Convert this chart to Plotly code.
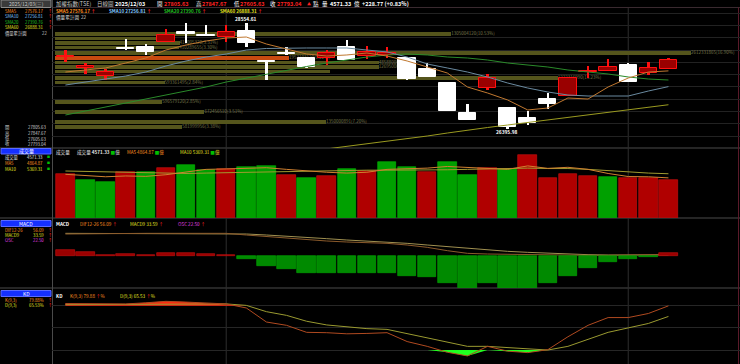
import plotly.graph_objects as go

FONT = "Noto Sans CJK TC, Noto Sans, sans-serif"
W, H = 740, 364

# ---------------- data ----------------
bars = list(range(31))
opens  = [27850, 27640, 27478, 28050, 28055, 28169, 28360, 28300, 28270, 28386, 27775, 27930, 27831, 27831, 28055, 27884,
          27899, 27831, 27608, 27324, 26714, 27222, 26828, 26613, 26999, 27066, 27550, 27573, 27695, 27539, 27605.63]
highs  = [28000, 27742, 27614, 28217, 28116, 28420, 28542, 28508, 28508, 28554.61, 27780, 28067, 27840, 28000, 28203, 28087,
          28055, 27850, 27730, 27330, 26903, 27506, 26840, 26767, 27121, 27440, 27675, 27811, 27730, 27762, 27847.67]
lows   = [27756, 27513, 27391, 28010, 27899, 28169, 28136, 28275, 28169, 28055, 27391, 27905, 27634, 27696, 27790, 27817,
          27832, 27390, 27450, 26755, 26570, 27188, 26395.98, 26477, 26802, 27060, 27437, 27570, 27350, 27492, 27605.63]
closes = [27870, 27660, 27559, 28020, 27966, 28305, 28330, 28280, 28372, 28136, 27750, 27910, 27661, 27933, 27797, 27966,
          27945, 27405, 27458, 26761, 26578, 27437, 26430, 26511, 26903, 27425, 27570, 27649, 27356, 27628, 27793.04]

sma5  = [27553, 27594, 27635, 27736, 27838, 28000, 28102, 28183, 28244, 28264, 28122, 28020, 27919, 27878, 27899, 27939,
         27878, 27777, 27655, 27533, 27249, 27127, 26985, 26782, 26822, 27025, 27005, 27249, 27431, 27553, 27576.17]
sma10 = [27289, 27350, 27411, 27472, 27553, 27675, 27777, 27858, 27919, 28000, 28031, 28041, 28041, 28041, 28041, 28000,
         27960, 27858, 27716, 27635, 27553, 27452, 27330, 27228, 27147, 27086, 27066, 27066, 27066, 27167, 27256.81]
sma20 = [26680, 26761, 26842, 26924, 27005, 27086, 27167, 27249, 27350, 27431, 27513, 27594, 27665, 27736, 27797, 27858,
         27899, 27919, 27899, 27858, 27838, 27797, 27736, 27695, 27655, 27594, 27553, 27513, 27452, 27411, 27390.76]
sma60_x = list(range(12, 31))
sma60 = [25939, 25989, 26040, 26091, 26142, 26193, 26253, 26314, 26375, 26426, 26477, 26528, 26578, 26629, 26680,
         26741, 26782, 26832, 26888.31]

volume = [5337, 4650, 4330, 5620, 5540, 6030, 6430, 5820, 5940, 6150, 6310, 5180, 4850, 5090, 5900, 5740,
          6830, 6220, 5580, 6790, 5220, 6030, 5940, 7640, 4890, 5300, 5090, 4970, 4890, 4850, 4571.33]
vol_up = [1, 0, 0, 1, 0, 1, 0, 0, 1, 0, 0, 1, 0, 1, 0, 1, 0, 0, 1, 0, 0, 1, 0, 1, 1, 1, 1, 0, 1, 1, 1]
vol_ma5 = [5300, 5150, 5000, 5100, 5050, 5250, 5600, 5900, 5950, 6050, 6100, 5900, 5700, 5550, 5450, 5550,
           5900, 6000, 6050, 6250, 6150, 6000, 5900, 6320, 6020, 6150, 5900, 5400, 5030, 5000, 4864.87]
vol_ma10 = [5700, 5650, 5550, 5500, 5450, 5400, 5400, 5450, 5500, 5550, 5600, 5650, 5700, 5750, 5750, 5800,
            5800, 5800, 5800, 5850, 5900, 5950, 5950, 6050, 6000, 6000, 5900, 5750, 5550, 5450, 5369.31]

dif   = [726, 737, 737, 737, 748, 748, 748, 748, 748, 693, 638, 583, 528, 495, 462, 440,
         418, 363, 286, 176, 88, 66, 55, 33, 33, 33, 22, 22, 33, 44, 56.09]
macd9 = [748, 748, 748, 748, 748, 748, 748, 748, 748, 726, 693, 660, 616, 572, 528, 495,
         462, 418, 363, 308, 253, 198, 154, 121, 88, 66, 44, 33, 33, 28, 33.59]
osc   = [41, 25, 5, 11, 9, 20, 20, 16, 5, -18, -68, -86, -113, -118, -118, -113,
         -113, -134, -145, -184, -220, -186, -215, -215, -186, -134, -84, -41, -23, -9, 22.5]

k_val = [83, 82.5, 82, 82.5, 84, 86, 85, 83.5, 82.5, 77, 58, 53.5, 44, 43.5, 42, 42.5,
         43.5, 31.5, 25, 17, 12, 25, 18.5, 16.5, 20.5, 38, 53.5, 64, 64, 69.5, 79.88]
d_val = [81.5, 81.5, 81.5, 81.5, 81.5, 82, 82.5, 82.5, 82.5, 80.5, 72, 67, 59, 54, 51, 49,
         48, 42, 36, 30, 25, 25, 23, 21, 20, 25, 34, 44, 50, 56, 65.53]

# price-volume profile (bin centre price, percent, label)
prof_price = [26433, 26535, 26738, 26941, 27340, 27434, 27563, 27655, 27746, 27841, 27944, 28051, 28142, 28234, 28328]
prof_pct   = [3.38, 7.20, 3.97, 2.85, 2.91, 13.36, 7.30, 8.60, 8.60, 6.22, 16.90, 3.30, 3.31, 3.17, 10.53]
prof_label = ["581999956(3.38%)", "1350000891(7.20%)", "672456510(3.51%)", "596579120(2.85%)",
              "593361495(2.84%)", "1222316990(13.23%)", "", "1269500000(8.6%)", "485880000(8.6%)",
              "1952103120(6.22%)", "2612331865(16.90%)", "410289655(3.30%)", "411005320(3.31%)", "",
              "1305004120(10.53%)"]
prof_hot = 9
month_bars = [8, 28]

# ---------------- helpers ----------------
X0 = 52 / W
XR = [-0.667, 33.56]
PX_PER_PCT = 37.8
def py(y):
    return 1 - y / H

fig = go.Figure()

# profile bars on base x axis (percent)
pcols = ["#c84a10" if i == prof_hot else "#55551c" for i in range(len(prof_price))]
fig.add_trace(go.Bar(y=prof_price, x=prof_pct, orientation="h", width=80, marker=dict(color=pcols, line=dict(width=0)),
                     xaxis="x", yaxis="y"))
fig.add_trace(go.Scatter(y=prof_price, x=prof_pct, mode="text", text=prof_label, textposition="middle right",
                         textfont=dict(size=4.5, color="#77774a", family=FONT), xaxis="x", yaxis="y", cliponaxis=False))

# SMA lines (overlay axis x6 = bar index)
for ys, xs, c in [(sma60, sma60_x, "#9a9a20"), (sma20, bars, "#2a8a2a"), (sma10, bars, "#6a8aa0"), (sma5, bars, "#c07830")]:
    fig.add_trace(go.Scatter(x=xs, y=ys, mode="lines", line=dict(color=c, width=1), xaxis="x6", yaxis="y"))

# candles: wicks then bodies
red_i = [i for i in bars if closes[i] >= opens[i]]
wht_i = [i for i in bars if closes[i] < opens[i]]
for idx, wc in [(red_i, "#ff1010"), (wht_i, "#ffffff")]:
    fig.add_trace(go.Bar(x=idx, base=[lows[i] for i in idx], y=[highs[i] - lows[i] for i in idx],
                         width=0.12, marker=dict(color=wc, line=dict(width=0)), xaxis="x6", yaxis="y"))
for idx, fc, lc in [(red_i, "#9a0000", "#ff1010"), (wht_i, "#ffffff", "#ffffff")]:
    fig.add_trace(go.Bar(x=idx, base=[min(opens[i], closes[i]) for i in idx],
                         y=[max(abs(closes[i] - opens[i]), 30) for i in idx],
                         width=0.86, marker=dict(color=fc, line=dict(color=lc, width=1)), xaxis="x6", yaxis="y"))

# volume
vcols = ["#b00000" if u else "#00a000" for u in vol_up]
vline = ["#d01010" if u else "#00c000" for u in vol_up]
fig.add_trace(go.Bar(x=bars, y=volume, width=0.92, marker=dict(color=vcols, line=dict(color=vline, width=0.6)),
                     xaxis="x2", yaxis="y2"))
fig.add_trace(go.Scatter(x=bars, y=vol_ma10, mode="lines", line=dict(color="#a09a30", width=1), xaxis="x2", yaxis="y2"))
fig.add_trace(go.Scatter(x=bars, y=vol_ma5, mode="lines", line=dict(color="#d08030", width=1), xaxis="x2", yaxis="y2"))

# MACD
ocols = ["#9a0000" if v >= 0 else "#008a00" for v in osc]
olines = ["#d01010" if v >= 0 else "#00b000" for v in osc]
fig.add_trace(go.Bar(x=bars, y=osc, width=0.92, marker=dict(color=ocols, line=dict(color=olines, width=0.6)),
                     xaxis="x3", yaxis="y4"))
fig.add_trace(go.Scatter(x=bars, y=macd9, mode="lines", line=dict(color="#a09050", width=1), xaxis="x3", yaxis="y3"))
fig.add_trace(go.Scatter(x=bars, y=dif, mode="lines", line=dict(color="#8b5a2b", width=1), xaxis="x3", yaxis="y3"))

# KD with fills
fig.add_trace(go.Scatter(x=bars, y=[80] * 31, mode="lines", line=dict(width=0), xaxis="x4", yaxis="y5"))
fig.add_trace(go.Scatter(x=bars, y=[max(k, 80) for k in k_val], mode="lines", line=dict(width=0), fill="tonexty",
                         fillcolor="#ff2a10", xaxis="x4", yaxis="y5"))
fig.add_trace(go.Scatter(x=bars, y=[20] * 31, mode="lines", line=dict(width=0), xaxis="x4", yaxis="y5"))
fig.add_trace(go.Scatter(x=bars, y=[min(k, 20) for k in k_val], mode="lines", line=dict(width=0), fill="tonexty",
                         fillcolor="#20ff20", xaxis="x4", yaxis="y5"))
fig.add_trace(go.Scatter(x=bars, y=d_val, mode="lines", line=dict(color="#9a9a30", width=1), xaxis="x4", yaxis="y5"))
fig.add_trace(go.Scatter(x=bars, y=k_val, mode="lines", line=dict(color="#b04a20", width=1), xaxis="x4", yaxis="y5"))

ax_common = dict(showgrid=False, zeroline=False, showticklabels=False, ticks="", showline=False, fixedrange=True)
xdom = [X0, 1]
layout = dict(
    width=W, height=H, margin=dict(l=0, r=0, t=0, b=0), paper_bgcolor="#000000", plot_bgcolor="rgba(0,0,0,0)",
    showlegend=False, barmode="overlay", bargap=0,
    xaxis=dict(domain=xdom, range=[-3 / PX_PER_PCT, 688 / PX_PER_PCT], anchor="y", **ax_common),
    xaxis6=dict(domain=xdom, range=XR, anchor="y", overlaying="x", **ax_common),
    xaxis2=dict(domain=xdom, range=XR, anchor="y2", **ax_common),
    xaxis3=dict(domain=xdom, range=XR, anchor="y3", **ax_common),
    xaxis4=dict(domain=xdom, range=XR, anchor="y5", **ax_common),
    yaxis=dict(domain=[py(148), py(8)], range=[26009.8, 28853.2], **{**ax_common, "showgrid": True},
               gridcolor="#222222", gridwidth=1, dtick=250, tick0=26000),
    yaxis2=dict(domain=[py(218), py(148)], range=[0, 8491], **ax_common),
    yaxis3=dict(domain=[py(288), py(218)], range=[-1056, 1254], **ax_common),
    yaxis4=dict(domain=[py(288), py(218)], range=[-217.6, 258.4], overlaying="y3", anchor="x3", **ax_common),
    yaxis5=dict(domain=[0, py(288)], range=[1.08, 104.07], **{**ax_common, "showgrid": True},
                gridcolor="#262626", tickvals=[20, 50, 80]),
)
fig.update_layout(**layout)

shapes = []
ann = []
def hline(y, x0=0, x1=W, color="#4a4a4a", width=1):
    shapes.append(dict(type="line", xref="paper", yref="paper", x0=x0 / W, x1=x1 / W, y0=py(y), y1=py(y),
                       line=dict(color=color, width=width), layer="below"))
def vline(x, y0, y1, color="#4a4a4a", width=1):
    shapes.append(dict(type="line", xref="paper", yref="paper", x0=x / W, x1=x / W, y0=py(y0), y1=py(y1),
                       line=dict(color=color, width=width), layer="below"))
def rect(x0, y0, x1, y1, fill, line="#808080"):
    shapes.append(dict(type="rect", xref="paper", yref="paper", x0=x0 / W, x1=x1 / W, y0=py(y1), y1=py(y0),
                       fillcolor=fill, line=dict(color=line, width=1), layer="below"))
def t(x, y, s, color="#e0e0e0", size=5, anchor="left", bold=False):
    if bold:
        s = "<b>" + s + "</b>"
    ann.append(dict(x=x / W, y=py(y), xref="paper", yref="paper", text=s, showarrow=False, xanchor=anchor,
                    yanchor="middle", font=dict(size=size, color=color, family=FONT)))

# panel frame
hline(7.5, 52, W, "#3a2a30")
hline(148, 0, W)
hline(218, 0, W)
hline(288, 0, W)
vline(52.5, 0, H)
vline(738.5, 7.5, H, "#5a1a2a")
for mb in month_bars:
    xm = 52 + (mb - XR[0]) / (XR[1] - XR[0]) * (W - 52)
    vline(xm, 8, H, "#2e2e2e")

# left panel boxes
rect(1, 0, 51, 7.5, "#3a3a3a", "#8a8a8a")
rect(1, 148.5, 51, 154, "#1530ff", "#5a6aff")
rect(1, 220.5, 51, 226.5, "#1530ff", "#5a6aff")
rect(1, 290.5, 51, 296.5, "#1530ff", "#5a6aff")
t(26, 3.8, "2025/12/03(三)", "#c8c8c8", 5, "center")
t(26, 151.3, "成交量", "#ffffff", 5, "center")
t(26, 223.5, "MACD", "#ffffff", 5, "center")
t(26, 293.5, "KD", "#ffffff", 5, "center")

LS = 4.3
left_rows = [(11, "SMA5", "27576.17", "#ff9020"), (16.5, "SMA10", "27256.81", "#80c8ff"),
             (22, "SMA20", "27390.76", "#20c020"), (27.5, "SMA60", "26888.31", "#e0e020")]
for y, a, b, c in left_rows:
    t(3, y, a, c, LS)
    t(46, y, b, c, LS, "right")
    t(49.5, y, "↑", "#ff2020", LS, "center")
t(3, 33, "價量累計圖", "#d0d0d0", LS)
t(49, 33, "22", "#d0d0d0", LS, "right")
for y, a, b in [(127.5, "開", "27805.63"), (133, "高", "27847.67"), (138.5, "低", "27605.63"), (144, "收", "27793.04")]:
    t(3, y, a, "#d0d0d0", LS)
    t(49, y, b, "#d0d0d0", LS, "right")
for y, a, b, c in [(157, "成交量", "4571.33", "#e0e0e0"), (163, "MA5", "4864.87", "#ff9020"),
                   (169, "MA10", "5369.31", "#e0e020")]:
    t(3, y, a, c, LS)
    t(45, y, b, c, LS, "right")
    t(48.5, y, "■", "#00c000", 3, "center")
for y, a, b, c in [(230, "DIF12-26", "56.09", "#ff9020"), (235, "MACD9", "33.59", "#e0e020"),
                   (240, "OSC", "22.50", "#e040e0")]:
    t(3, y, a, c, LS)
    t(46, y, b, c, LS, "right")
    t(49.5, y, "↑", "#ff2020", LS, "center")
for y, a, b, c in [(300, "K(9,3)", "79.88%", "#ff9020"), (305, "D(9,3)", "65.53%", "#e0e020")]:
    t(3, y, a, c, LS)
    t(46, y, b, c, LS, "right")
    t(49.5, y, "↑", "#ff2020", LS, "center")

# header row
HS = 5.5
t(54, 4, "加權指數(TSE)", "#c8c8c8", HS)
t(95, 4, "日線圖", "#c8c8c8", HS)
t(113, 4, "2025/12/03", "#ffffff", HS, bold=True)
t(155, 4, "開", "#ffffff", HS)
t(162, 4, "27805.63", "#ff2020", HS, bold=True)
t(194, 4, "高", "#ffffff", HS)
t(200, 4, "27847.67", "#ff2020", HS, bold=True)
t(232, 4, "低", "#ffffff", HS)
t(238, 4, "27605.63", "#ff2020", HS, bold=True)
t(268, 4, "收", "#ffffff", HS)
t(275, 4, "27793.04", "#ff2020", HS, bold=True)
t(305, 4, "▲", "#ff2020", 4)
t(311, 4, "點", "#ffffff", HS)
t(320, 4, "量", "#ffffff", HS)
t(328, 4, "4571.33", "#ffffff", HS, bold=True)
t(352, 4, "億", "#ffffff", HS)
t(360, 4, "+228.77 (+0.83%)", "#ffffff", HS, bold=True)

# SMA legend row
for x, a, b, c in [(54, "SMA5", "27576.17", "#ff9020"), (107, "SMA10", "27256.81", "#80c8ff"),
                   (162, "SMA20", "27390.76", "#20c020"), (218, "SMA60", "26888.31", "#e0e020")]:
    t(x, 11, a + " " + b + " <span style='color:#ff2020'>↑</span>", c, 4.6, bold=True)
t(54, 17, "價量累計圖  22", "#d8d8d8", 4.6)
t(246, 18.5, "28554.61", "#ffffff", 4.8, "center", bold=True)
t(507, 131.5, "26395.98", "#ffffff", 4.8, "center", bold=True)

# sub-panel headers
SS = 4.6
t(54, 152, "成交量", "#e0e0e0", SS)
t(75, 152, "成交量 <b>4571.33</b> <span style='color:#00c000'>■</span>億", "#e0e0e0", SS)
t(125, 152, "MA5 4864.87 <span style='color:#00c000'>■</span>億", "#ff9020", SS)
t(178, 152, "MA10 5369.31 <span style='color:#00c000'>■</span>億", "#e0e020", SS)
t(54, 224, "<b>MACD</b>", "#ffffff", SS)
t(78, 224, "DIF12-26 56.09 <span style='color:#ff2020'>↑</span>", "#ff9020", SS)
t(128, 224, "MACD9 33.59 <span style='color:#ff2020'>↑</span>", "#e0e020", SS)
t(176, 224, "OSC 22.50 <span style='color:#ff2020'>↑</span>", "#e040e0", SS)
t(54, 296, "<b>KD</b>", "#ffffff", SS)
t(68, 296, "K(9,3) 79.88 <span style='color:#ff2020'>↑</span>%", "#ff9020", SS)
t(118, 296, "D(9,3) 65.53 <span style='color:#ff2020'>↑</span>%", "#e0e020", SS)

fig.update_layout(shapes=shapes, annotations=ann)
fig.write_html("out.html")
